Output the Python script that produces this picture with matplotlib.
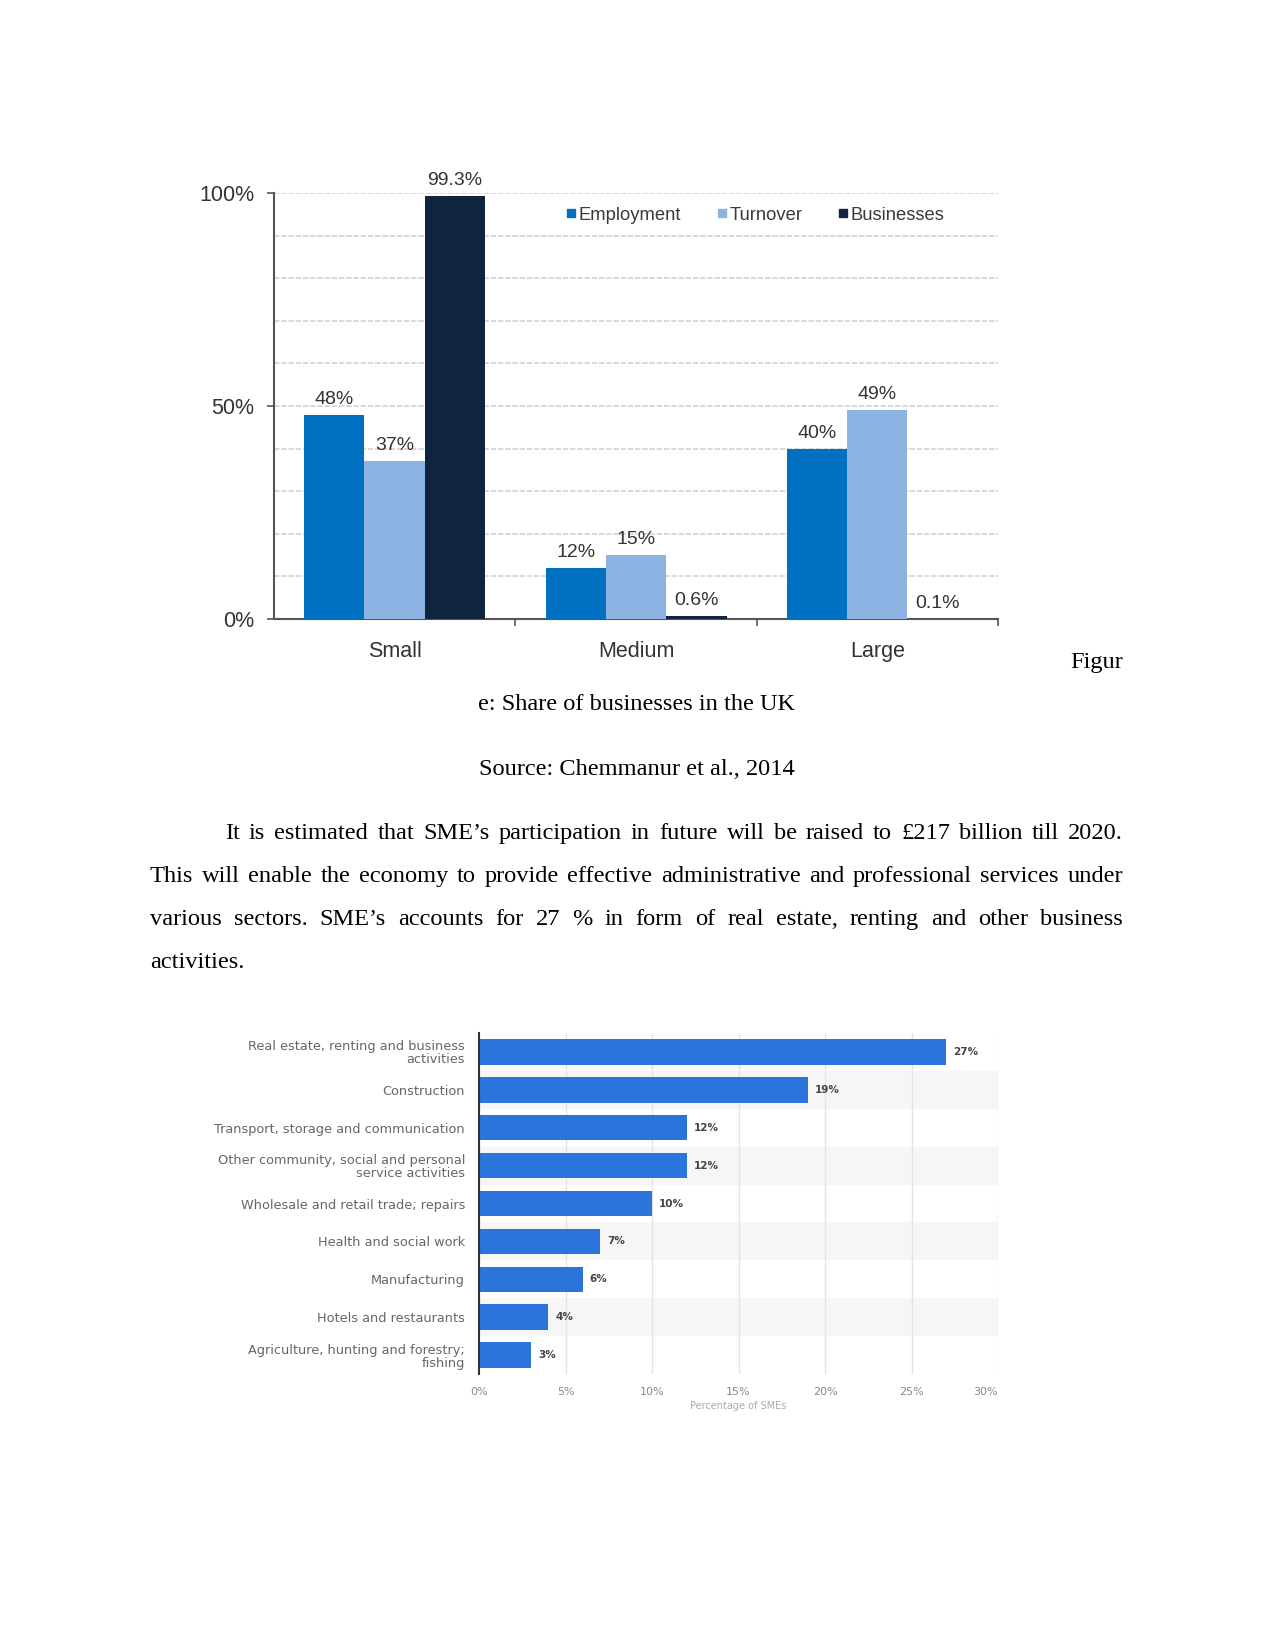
#!/usr/bin/env python
# Page with two SME charts and a short justified paragraph

import numpy as np
import matplotlib
matplotlib.use("Agg")
import matplotlib.pyplot as plt
from matplotlib.lines import Line2D

# data: share of businesses in the UK
sizes = ["Small", "Medium", "Large"]
employment = [48, 12, 40]
turnover = [37, 15, 49]
businesses = [99.3, 0.6, 0.1]
emp_labels = ["48%", "12%", "40%"]
turn_labels = ["37%", "15%", "49%"]
bus_labels = ["99.3%", "0.6%", "0.1%"]

# data: SMEs by sector
sectors = ["Real estate, renting and business\nactivities",
           "Construction",
           "Transport, storage and communication",
           "Other community, social and personal\nservice activities",
           "Wholesale and retail trade; repairs",
           "Health and social work",
           "Manufacturing",
           "Hotels and restaurants",
           "Agriculture, hunting and forestry;\nfishing"]
sector_share = [27, 19, 12, 12, 10, 7, 6, 4, 3]

para_lines = ["It is estimated that SME’s participation in future will be raised to £217 billion till 2020.",
              "This will enable the economy to provide effective administrative and professional services under",
              "various sectors. SME’s accounts for 27 % in form of real estate, renting and other business",
              "activities."]

W, H = 1275, 1651
fig = plt.figure(figsize=(W / 100, H / 100), dpi=100)
fig.patch.set_facecolor("white")

def px(x, y):
    return x / W, 1 - y / H

# ---- top chart ----
ax = fig.add_axes([274 / W, 1 - 619 / H, 724 / W, 426 / H])
x = np.arange(len(sizes))
bw = 0.25
series = [(employment, emp_labels, "#0070C0", "Employment"),
          (turnover, turn_labels, "#8DB3E2", "Turnover"),
          (businesses, bus_labels, "#10243F", "Businesses")]
for i, (vals, labs, col, name) in enumerate(series):
    xs = x + (i - 1) * bw
    ax.bar(xs, vals, width=bw, color=col, zorder=3)
    for xi, v, lab in zip(xs, vals, labs):
        ax.annotate(lab, (xi, v), xytext=(0, 7), textcoords="offset pixels",
                    ha="center", va="bottom", fontsize=14, color="#333333",
                    family="Liberation Sans")

ax.set_xlim(-0.5, 2.5)
ax.set_ylim(0, 100)
ax.set_yticks([0, 50, 100])
ax.set_yticklabels(["0%", "50%", "100%"])
ax.set_yticks(range(0, 101, 10), minor=True)
ax.grid(which="both", axis="y", color="#d6d6d6", lw=1.3, ls=(0, (3, 1)), zorder=0)
ax.set_xticks(x)
ax.set_xticklabels(sizes)
ax.set_xticks([0.5, 1.5, 2.5], minor=True)
ax.tick_params(axis="x", which="major", length=0, pad=16, labelsize=15.5, labelcolor="#333333")
ax.tick_params(axis="x", which="minor", length=5, width=1.2, color="#555555", direction="out")
ax.tick_params(axis="y", which="major", length=5, width=1.2, color="#555555", pad=9,
               labelsize=15.5, labelcolor="#333333")
ax.tick_params(axis="y", which="minor", length=0)
for lab in ax.get_xticklabels() + ax.get_yticklabels():
    lab.set_family("Liberation Sans")
for s in ["top", "right"]:
    ax.spines[s].set_visible(False)
for s in ["left", "bottom"]:
    ax.spines[s].set_color("#555555")
    ax.spines[s].set_linewidth(1.5)

handles = [Line2D([], [], marker="s", ls="none", color=c, markersize=6) for _, _, c, _ in series]
leg = ax.legend(handles, [s[3] for s in series], ncol=3, loc="center",
                bbox_to_anchor=(0.665, 0.948), frameon=False, handlelength=0.5,
                handletextpad=0.15, columnspacing=2.0,
                prop={"family": "Liberation Sans", "size": 13.2})
for t in leg.get_texts():
    t.set_color("#3a3a3a")

# ---- captions and paragraph ----
serif = dict(family="Liberation Serif", fontsize=17.6, color="black")
fig.text(*px(1123, 668), "Figur", ha="right", va="baseline", **serif)
fig.text(*px(637, 710), "e: Share of businesses in the UK", ha="center", va="baseline", **serif)
fig.text(*px(637, 775), "Source: Chemmanur et al., 2014", ha="center", va="baseline", **serif)

renderer = fig.canvas.get_renderer()

def justify(line, x0, x1, y, stretch=True):
    if not stretch:
        fig.text(*px(x0, y), line, ha="left", va="baseline", **serif)
        return
    words = line.split(" ")
    texts = [fig.text(*px(x0, y), w, ha="left", va="baseline", **serif) for w in words]
    widths = [t.get_window_extent(renderer).width for t in texts]
    gap = ((x1 - x0) - sum(widths)) / (len(words) - 1)
    xc = x0
    for t, w in zip(texts, widths):
        t.set_x(xc / W)
        xc += w + gap

baselines = [839, 882, 925, 968]
starts = [225, 150, 150, 150]
for i, (line, y, x0) in enumerate(zip(para_lines, baselines, starts)):
    justify(line, x0, 1123, y, stretch=(i < 3))

# ---- bottom chart ----
bx = fig.add_axes([479 / W, 1 - 1374 / H, 519 / W, 341 / H])
rows = np.arange(len(sectors))
for r in rows:
    if r % 2 == 1:
        bx.axhspan(r - 0.5, r + 0.5, color="#f6f6f6", zorder=0, lw=0)
bx.barh(rows, sector_share, height=0.67, color="#2B74DB", zorder=3)
for r, v in zip(rows, sector_share):
    bx.annotate(f"{v}%", (v, r), xytext=(7, 0), textcoords="offset pixels",
                ha="left", va="center", fontsize=7.5, fontweight="bold", color="#444444")
bx.set_xlim(0, 30)
bx.set_ylim(8.5, -0.5)
bx.set_xticks(range(0, 31, 5))
bx.set_xticklabels([f"{t}%" for t in range(0, 31, 5)])
bx.get_xticklabels()[-1].set_horizontalalignment("right")
bx.set_yticks(rows)
bx.set_yticklabels(sectors, linespacing=1.0)
bx.grid(axis="x", color="#e4e4e4", lw=1.0, zorder=1)
bx.tick_params(axis="x", length=0, pad=9, labelsize=8, labelcolor="#888888")
bx.tick_params(axis="y", length=0, pad=10, labelsize=9.3, labelcolor="#666666")
bx.set_xlabel("Percentage of SMEs", fontsize=7, color="#aaaaaa", labelpad=3)
for s in ["top", "right", "bottom"]:
    bx.spines[s].set_visible(False)
bx.spines["left"].set_color("#333333")
bx.spines["left"].set_linewidth(1.5)
bx.spines["left"].set_zorder(4)

fig.savefig("out.png", dpi=100, facecolor="white")
